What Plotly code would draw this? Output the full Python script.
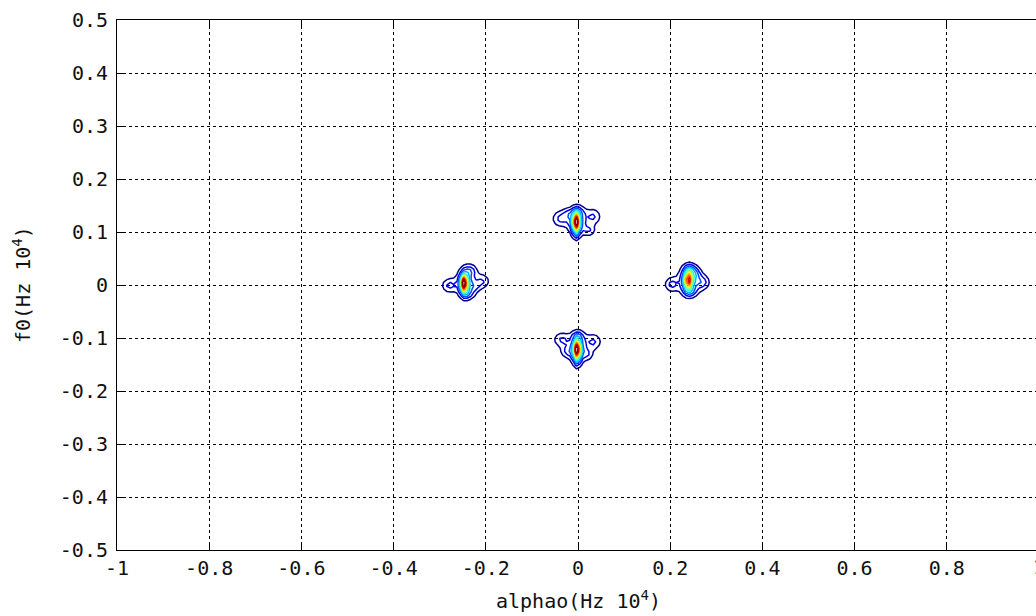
import numpy as np
import plotly.graph_objects as go

# Peak centres of the four spectral lines (alphao, f0), in Hz x 1e4
PEAK_X = [-0.247, -0.004, -0.002, 0.239]
PEAK_Y = [0.003, 0.119, -0.121, 0.009]
PEAK_AMP = [0.62, 0.60, 0.60, 0.40]

# Components around each peak: owning peak, offset, amplitude, spread
LOBE_PEAK = [0, 0, 0, 0, 0, 0, 0,
             1, 1, 1, 1, 1, 1, 1, 1,
             2, 2, 2, 2, 2, 2, 2, 2,
             3, 3, 3, 3, 3, 3, 3]
LOBE_DX = [0.000, 0.004, 0.013, -0.032, 0.040, 0.008, 0.024,
           0.000, 0.002, -0.034, 0.037, 0.004, 0.028, 0.000, -0.018,
           0.000, 0.002, -0.033, 0.036, 0.002, 0.000, -0.022, 0.024,
           0.000, 0.003, -0.036, 0.032, 0.004, 0.004, 0.016]
LOBE_DY = [0.000, 0.002, 0.024, -0.004, 0.004, -0.020, -0.006,
           0.000, 0.000, 0.006, 0.010, 0.020, -0.016, -0.022, 0.016,
           0.000, 0.000, 0.018, 0.014, 0.025, -0.022, -0.004, -0.010,
           0.000, 0.000, -0.008, -0.004, 0.021, -0.022, 0.012]
LOBE_AMP = [0.30, 0.26, 0.19, 0.19, 0.17, 0.17, 0.12,
            0.30, 0.26, 0.19, 0.18, 0.16, 0.16, 0.16, 0.12,
            0.30, 0.26, 0.18, 0.18, 0.17, 0.16, 0.15, 0.12,
            0.30, 0.30, 0.19, 0.18, 0.17, 0.17, 0.12]
LOBE_SX = [0.007, 0.014, 0.010, 0.011, 0.010, 0.010, 0.008,
           0.007, 0.014, 0.012, 0.011, 0.010, 0.009, 0.005, 0.008,
           0.007, 0.014, 0.012, 0.011, 0.010, 0.005, 0.010, 0.008,
           0.008, 0.016, 0.010, 0.010, 0.010, 0.011, 0.008]
LOBE_SY = [0.015, 0.015, 0.008, 0.009, 0.009, 0.007, 0.007,
           0.015, 0.015, 0.010, 0.010, 0.007, 0.007, 0.008, 0.007,
           0.016, 0.016, 0.009, 0.010, 0.007, 0.009, 0.008, 0.007,
           0.015, 0.015, 0.009, 0.009, 0.007, 0.007, 0.007]
CORE_SX = 0.004
CORE_SY = 0.010

X_TICKS = [-1, -0.8, -0.6, -0.4, -0.2, 0, 0.2, 0.4, 0.6, 0.8]
X_LABELS = ["-1", "-0.8", "-0.6", "-0.4", "-0.2", "0", "0.2", "0.4", "0.6", "0.8"]
Y_TICKS = [-0.5, -0.4, -0.3, -0.2, -0.1, 0, 0.1, 0.2, 0.3, 0.4, 0.5]
Y_LABELS = ["-0.5", "-0.4", "-0.3", "-0.2", "-0.1", "0", "0.1", "0.2", "0.3", "0.4", "0.5"]

# Sampled ambiguity surface on a coarse grid
xs = np.arange(-0.32, 0.32 + 1e-9, 0.0072)
ys = np.arange(-0.20, 0.20 + 1e-9, 0.0062)
XX, YY = np.meshgrid(xs, ys)
Z = np.zeros_like(XX)


def bump(cx, cy, a, sx, sy):
    return a * np.exp(-0.5 * (((XX - cx) / sx) ** 2 + ((YY - cy) / sy) ** 2))


for px, py, pa in zip(PEAK_X, PEAK_Y, PEAK_AMP):
    Z += bump(px, py, pa, CORE_SX, CORE_SY)
for k, dx, dy, a, sx, sy in zip(LOBE_PEAK, LOBE_DX, LOBE_DY, LOBE_AMP, LOBE_SX, LOBE_SY):
    Z += bump(PEAK_X[k] + dx, PEAK_Y[k] + dy, a, sx, sy)

jet = [
    [0.0, "rgb(0,0,143)"],
    [0.125, "rgb(0,0,255)"],
    [0.375, "rgb(0,255,255)"],
    [0.625, "rgb(255,255,0)"],
    [0.875, "rgb(255,0,0)"],
    [1.0, "rgb(128,0,0)"],
]

FONT = "DejaVu Sans Mono"

fig = go.Figure()
fig.add_trace(go.Contour(
    x=xs, y=ys, z=Z,
    colorscale=jet, zmin=0, zmax=1,
    contours=dict(coloring="lines", start=0.08, end=0.95, size=0.085),
    line=dict(width=1.5, smoothing=0),
    showscale=False, hoverinfo="skip",
))

W, H = 1036, 616
L, T, B = 117, 20, 66
plot_w = W - L

fig.update_layout(
    width=W, height=H,
    margin=dict(l=L, r=0, t=T, b=B, pad=0),
    paper_bgcolor="white", plot_bgcolor="white",
    font=dict(family=FONT, size=20, color="#111111"),
    showlegend=False,
    xaxis=dict(
        range=[-1, 1 - 3 / 461], tickvals=X_TICKS, ticktext=X_LABELS,
        ticks="inside", ticklen=6, tickwidth=1, tickcolor="black",
        showline=True, linecolor="black", linewidth=1, mirror="ticks",
        showgrid=True, gridcolor="black", gridwidth=1, griddash="3px,3px",
        zeroline=False, ticklabelstandoff=0,
    ),
    yaxis=dict(
        range=[-0.5, 0.5], tickvals=Y_TICKS, ticktext=Y_LABELS,
        ticks="inside", ticklen=6, tickwidth=1, tickcolor="black",
        showline=True, linecolor="black", linewidth=1, mirror=False,
        showgrid=True, gridcolor="black", gridwidth=1, griddash="3px,3px",
        zeroline=False, ticklabelstandoff=4,
    ),
    annotations=[
        dict(text="1", xref="paper", yref="paper", x=(1039 - L) / plot_w, y=0,
             yshift=-17, xanchor="center", yanchor="middle", showarrow=False),
        dict(text="alphao(Hz 10<sup>4</sup>)", xref="paper", yref="paper",
             x=(578 - L) / plot_w, y=-50 / 530, xanchor="center", yanchor="middle",
             showarrow=False),
        dict(text="f0(Hz 10<sup>4</sup>)", xref="paper", yref="paper",
             x=(22 - L) / plot_w, y=0.5, xanchor="center", yanchor="middle",
             textangle=-90, showarrow=False),
    ],
)

fig.write_html("out.html")
